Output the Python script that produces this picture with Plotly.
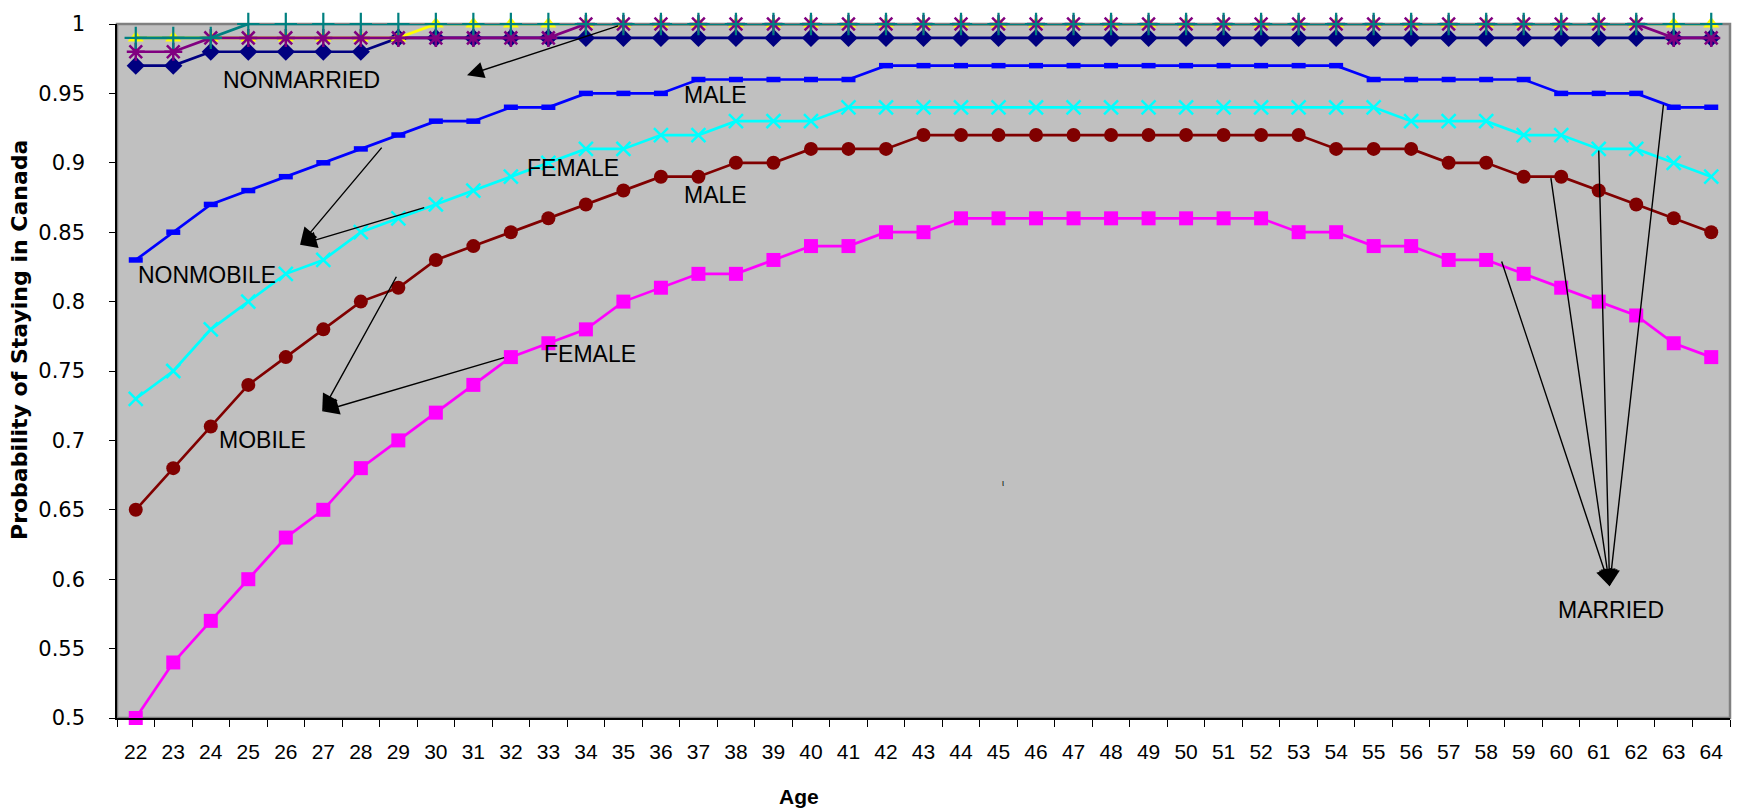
import plotly.graph_objects as go

# ---------------- data ----------------
ages = [22, 23, 24, 25, 26, 27, 28, 29, 30, 31, 32, 33, 34, 35, 36, 37, 38, 39, 40, 41, 42,
        43, 44, 45, 46, 47, 48, 49, 50, 51, 52, 53, 54, 55, 56, 57, 58, 59, 60, 61, 62, 63, 64]
age_labels = [str(a) for a in ages]

# NONMARRIED group (top four curves)
nonmarried_navy = [0.97, 0.97, 0.98, 0.98, 0.98, 0.98, 0.98, 0.99, 0.99, 0.99, 0.99, 0.99, 0.99, 0.99, 0.99,
                   0.99, 0.99, 0.99, 0.99, 0.99, 0.99, 0.99, 0.99, 0.99, 0.99, 0.99, 0.99, 0.99, 0.99, 0.99,
                   0.99, 0.99, 0.99, 0.99, 0.99, 0.99, 0.99, 0.99, 0.99, 0.99, 0.99, 0.99, 0.99]
nonmarried_yellow = [0.99, 0.99, 0.99, 0.99, 0.99, 0.99, 0.99, 0.99, 1.0, 1.0, 1.0, 1.0, 1.0, 1.0, 1.0,
                     1.0, 1.0, 1.0, 1.0, 1.0, 1.0, 1.0, 1.0, 1.0, 1.0, 1.0, 1.0, 1.0, 1.0, 1.0,
                     1.0, 1.0, 1.0, 1.0, 1.0, 1.0, 1.0, 1.0, 1.0, 1.0, 1.0, 1.0, 1.0]
nonmarried_purple = [0.98, 0.98, 0.99, 0.99, 0.99, 0.99, 0.99, 0.99, 0.99, 0.99, 0.99, 0.99, 1.0, 1.0, 1.0,
                     1.0, 1.0, 1.0, 1.0, 1.0, 1.0, 1.0, 1.0, 1.0, 1.0, 1.0, 1.0, 1.0, 1.0, 1.0,
                     1.0, 1.0, 1.0, 1.0, 1.0, 1.0, 1.0, 1.0, 1.0, 1.0, 1.0, 0.99, 0.99]
nonmarried_teal = [0.99, 0.99, 0.99, 1.0, 1.0, 1.0, 1.0, 1.0, 1.0, 1.0, 1.0, 1.0, 1.0, 1.0, 1.0,
                   1.0, 1.0, 1.0, 1.0, 1.0, 1.0, 1.0, 1.0, 1.0, 1.0, 1.0, 1.0, 1.0, 1.0, 1.0,
                   1.0, 1.0, 1.0, 1.0, 1.0, 1.0, 1.0, 1.0, 1.0, 1.0, 1.0, 1.0, 1.0]

# MARRIED group
married_male_nonmobile = [0.83, 0.85, 0.87, 0.88, 0.89, 0.90, 0.91, 0.92, 0.93, 0.93, 0.94, 0.94, 0.95, 0.95,
                          0.95, 0.96, 0.96, 0.96, 0.96, 0.96, 0.97, 0.97, 0.97, 0.97, 0.97, 0.97, 0.97, 0.97,
                          0.97, 0.97, 0.97, 0.97, 0.97, 0.96, 0.96, 0.96, 0.96, 0.96, 0.95, 0.95, 0.95, 0.94, 0.94]
married_female_nonmobile = [0.73, 0.75, 0.78, 0.80, 0.82, 0.83, 0.85, 0.86, 0.87, 0.88, 0.89, 0.90, 0.91, 0.91,
                            0.92, 0.92, 0.93, 0.93, 0.93, 0.94, 0.94, 0.94, 0.94, 0.94, 0.94, 0.94, 0.94, 0.94,
                            0.94, 0.94, 0.94, 0.94, 0.94, 0.94, 0.93, 0.93, 0.93, 0.92, 0.92, 0.91, 0.91, 0.90, 0.89]
married_male_mobile = [0.65, 0.68, 0.71, 0.74, 0.76, 0.78, 0.80, 0.81, 0.83, 0.84, 0.85, 0.86, 0.87, 0.88,
                       0.89, 0.89, 0.90, 0.90, 0.91, 0.91, 0.91, 0.92, 0.92, 0.92, 0.92, 0.92, 0.92, 0.92,
                       0.92, 0.92, 0.92, 0.92, 0.91, 0.91, 0.91, 0.90, 0.90, 0.89, 0.89, 0.88, 0.87, 0.86, 0.85]
married_female_mobile = [0.50, 0.54, 0.57, 0.60, 0.63, 0.65, 0.68, 0.70, 0.72, 0.74, 0.76, 0.77, 0.78, 0.80,
                         0.81, 0.82, 0.82, 0.83, 0.84, 0.84, 0.85, 0.85, 0.86, 0.86, 0.86, 0.86, 0.86, 0.86,
                         0.86, 0.86, 0.86, 0.85, 0.85, 0.84, 0.84, 0.83, 0.83, 0.82, 0.81, 0.80, 0.79, 0.77, 0.76]

y_ticks = [0.5, 0.55, 0.6, 0.65, 0.7, 0.75, 0.8, 0.85, 0.9, 0.95, 1.0]
y_tick_labels = ["0.5", "0.55", "0.6", "0.65", "0.7", "0.75", "0.8", "0.85", "0.9", "0.95", "1"]

FONT = "Liberation Sans, Arial, sans-serif"

fig = go.Figure()

def add_series(y, color, symbol, size, mline=None):
    marker = dict(symbol=symbol, size=size, color=color)
    if mline is not None:
        marker["line"] = dict(color=color, width=mline)
    else:
        marker["line"] = dict(width=0)
    fig.add_trace(go.Scatter(x=ages, y=y, mode="lines+markers",
                             line=dict(color=color, width=2.7),
                             marker=marker, cliponaxis=False, showlegend=False))

# Excel default series order / styles
add_series(nonmarried_navy, "#000080", "diamond", 14)
add_series(married_female_mobile, "#FF00FF", "square", 14)
add_series(nonmarried_yellow, "#FFFF00", "triangle-up", 14)
add_series(married_female_nonmobile, "#00FFFF", "x-thin", 14, mline=2.5)
add_series(nonmarried_purple, "#800080", "asterisk-open", 15, mline=2.5)
add_series(married_male_mobile, "#800000", "circle", 14)
add_series(nonmarried_teal, "#008080", "cross-thin", 16, mline=2.2)
add_series(married_male_nonmobile, "#0000FF", "line-ew", 10, mline=5.5)

# ---------------- annotations ----------------
def arrow(tail, head):
    fig.add_annotation(x=head[0], y=head[1], ax=tail[0], ay=tail[1],
                       xref="x", yref="y", axref="x", ayref="y",
                       text="", showarrow=True, arrowhead=2, arrowsize=2.4,
                       arrowwidth=1.4, arrowcolor="black", standoff=0, startstandoff=0)

def label(x, y, text, size=23):
    fig.add_annotation(x=x, y=y, xref="x", yref="y", text=text, showarrow=False,
                       font=dict(family=FONT, size=size, color="black"))

arrow((34.9, 0.999), (30.83, 0.963))
label(26.43, 0.960, "NONMARRIED")
label(37.45, 0.9486, "MALE")
label(33.66, 0.896, "FEMALE")
label(37.46, 0.877, "MALE")
label(23.89, 0.819, "NONMOBILE")
arrow((28.59, 0.912), (26.38, 0.841))
arrow((29.73, 0.868), (26.38, 0.841))
label(34.11, 0.762, "FEMALE")
label(25.37, 0.700, "MOBILE")
arrow((28.97, 0.819), (26.97, 0.721))
arrow((31.86, 0.760), (26.97, 0.721))
label(61.34, 0.578, "MARRIED")
for tail in [(58.4, 0.83), (59.72, 0.89), (61.0, 0.91), (62.73, 0.943)]:
    arrow(tail, (61.29, 0.595))
label(45.13, 0.669, "ι", size=9)

# axis titles
fig.add_annotation(x=-0.069, y=0.545, xref="paper", yref="paper", text="<b>Probability of Staying in Canada</b>",
                   textangle=-90, showarrow=False, font=dict(family="DejaVu Sans", size=22, color="black"))
fig.add_annotation(x=0.4228, y=-0.133, xref="paper", yref="paper", text="<b>Age</b>",
                   showarrow=False, font=dict(family=FONT, size=21, color="black"))

# plot-area border
fig.add_shape(type="rect", xref="paper", yref="paper", x0=0, y0=0, x1=1, y1=1,
              line=dict(color="#808080", width=2.5), layer="below")

fig.update_layout(
    width=1742, height=811,
    margin=dict(l=117, r=12, t=18, b=93),
    paper_bgcolor="white", plot_bgcolor="#C0C0C0",
    font=dict(family=FONT, color="black"),
    xaxis=dict(range=[21.5, 64.5], tickmode="array", tickvals=ages, ticktext=age_labels,
               ticks="", showgrid=False, zeroline=False, showline=True, linecolor="black", linewidth=1.5,
               tickfont=dict(size=21, family=FONT), ticklabelstandoff=14,
               minor=dict(tickmode="array", tickvals=[a - 0.5 for a in ages] + [64.5],
                          ticks="outside", ticklen=7, tickcolor="black", tickwidth=1, showgrid=False)),
    yaxis=dict(range=[0.5, 1.0], tickmode="array", tickvals=y_ticks, ticktext=y_tick_labels,
               ticks="outside", ticklen=6, tickcolor="black", showgrid=False, zeroline=False,
               showline=True, linecolor="black", linewidth=1.5,
               tickfont=dict(size=21, family="DejaVu Sans"), ticklabelstandoff=20),
)

fig.write_html("out.html", config={"displayModeBar": False},
               post_script="document.body.style.margin='0';document.body.style.overflow='hidden';")
